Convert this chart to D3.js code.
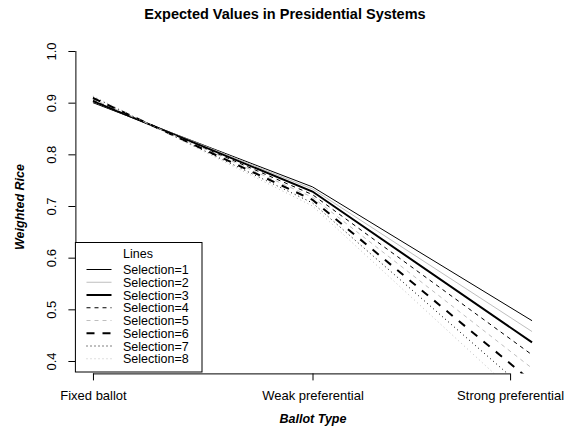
<!DOCTYPE html>
<html>
<head>
<meta charset="utf-8">
<script src="https://cdn.jsdelivr.net/npm/d3@7"></script>
<style>
  html, body { margin: 0; padding: 0; background: #fff; }
  svg { display: block; font-family: "Liberation Sans", Arial, Helvetica, sans-serif; }
</style>
</head>
<body>
<svg id="chart" width="571" height="431"></svg>
<script>
// Ballot types along the x axis (positions 1..3)
const ballotTypes = ["Fixed ballot", "Weak preferential", "Strong preferential"];
const ballotPositions = [1, 2, 3];
// Where the x tick labels sit
const xTickAt = [1, 2, 2.9];
// Y tick values
const yTicks = [0.4, 0.5, 0.6, 0.7, 0.8, 0.9, 1.0];

// Expected weighted Rice values for each selection rule
const selection1 = [0.900, 0.737, 0.478];
const selection2 = [0.902, 0.733, 0.457];
const selection3 = [0.903, 0.728, 0.436];
const selection4 = [0.905, 0.722, 0.412];
const selection5 = [0.907, 0.717, 0.386];
const selection6 = [0.909, 0.712, 0.360];
const selection7 = [0.911, 0.706, 0.334];
const selection8 = [0.913, 0.700, 0.308];

const seriesNames = ["Selection=1", "Selection=2", "Selection=3", "Selection=4",
                     "Selection=5", "Selection=6", "Selection=7", "Selection=8"];
const seriesValues = [selection1, selection2, selection3, selection4,
                      selection5, selection6, selection7, selection8];

// Line styles: colour, width, dash pattern
const gray = "#bebebe";
const styles = [
  { color: "#000", width: 1, dash: null },
  { color: gray,   width: 1, dash: null },
  { color: "#000", width: 2, dash: null },
  { color: "#000", width: 1, dash: "4,4" },
  { color: gray,   width: 1, dash: "4,4" },
  { color: "#000", width: 2, dash: "8,8" },
  { color: "#000", width: 1, dash: "1,3" },
  { color: gray,   width: 1, dash: "1,3" }
];

const svg = d3.select("#chart");

// Plot region
const plot = { left: 75.4, right: 549.6, top: 38.6, bottom: 373.4 };

const x = d3.scaleLinear().domain([0.92, 3.08]).range([plot.left, plot.right]);
const y = d3.scaleLinear().domain([0.376, 1.024]).range([plot.bottom, plot.top]);

svg.append("defs").append("clipPath").attr("id", "plotClip")
  .append("rect")
  .attr("x", plot.left).attr("y", plot.top)
  .attr("width", plot.right - plot.left).attr("height", plot.bottom - plot.top);

// Title
svg.append("text")
  .attr("x", 285).attr("y", 19)
  .attr("text-anchor", "middle")
  .attr("font-size", 14.5).attr("font-weight", "bold")
  .text("Expected Values in Presidential Systems");

// Lines
const line = d3.line()
  .x((d, i) => x(ballotPositions[i]))
  .y(d => y(d));

const lineG = svg.append("g").attr("clip-path", "url(#plotClip)");
seriesValues.forEach((vals, i) => {
  const s = styles[i];
  lineG.append("path")
    .datum(vals)
    .attr("d", line)
    .attr("fill", "none")
    .attr("stroke", s.color)
    .attr("stroke-width", s.width)
    .attr("stroke-dasharray", s.dash);
});

// Y axis
const yAxis = svg.append("g")
  .attr("transform", `translate(${plot.left},0)`)
  .call(d3.axisLeft(y).tickValues(yTicks).tickSize(7).tickSizeOuter(0).tickFormat(d3.format(".1f")));
yAxis.select(".domain").attr("d", `M0.5,${y(yTicks[0])}V${y(yTicks[yTicks.length - 1])}`);
yAxis.selectAll(".tick line").attr("stroke", "#000");
yAxis.selectAll(".tick text")
  .attr("font-size", 13)
  .attr("font-family", "Liberation Sans, Arial, sans-serif")
  .attr("fill", "#000")
  .attr("x", 0).attr("dy", null)
  .attr("text-anchor", "middle")
  .attr("transform", "translate(-19,0) rotate(-90)");

// X axis
const xAxis = svg.append("g")
  .attr("transform", `translate(0,${plot.bottom})`)
  .call(d3.axisBottom(x).tickValues(xTickAt).tickSize(7).tickSizeOuter(0)
    .tickFormat((d, i) => ballotTypes[i]));
xAxis.select(".domain").attr("d", `M${x(xTickAt[0])},0.5H${x(xTickAt[xTickAt.length - 1])}`);
xAxis.selectAll(".tick line").attr("stroke", "#000");
xAxis.selectAll(".tick text")
  .attr("font-size", 13)
  .attr("font-family", "Liberation Sans, Arial, sans-serif")
  .attr("fill", "#000")
  .attr("y", 27).attr("dy", null);

// Axis titles
svg.append("text")
  .attr("x", 313).attr("y", 423)
  .attr("text-anchor", "middle")
  .attr("font-size", 12.5).attr("font-weight", "bold").attr("font-style", "italic")
  .text("Ballot Type");

svg.append("text")
  .attr("transform", "translate(24,207) rotate(-90)")
  .attr("text-anchor", "middle")
  .attr("font-size", 12.5).attr("font-weight", "bold").attr("font-style", "italic")
  .text("Weighted Rice");

// Legend
const legend = svg.append("g");
const legBox = { left: plot.left, right: 202, top: 242.5, bottom: 372 };
legend.append("rect")
  .attr("x", legBox.left).attr("y", legBox.top)
  .attr("width", legBox.right - legBox.left).attr("height", legBox.bottom - legBox.top)
  .attr("fill", "#fff").attr("stroke", "#000").attr("stroke-width", 1);
legend.append("text")
  .attr("x", 123).attr("y", 257.5)
  .attr("font-size", 12.5)
  .text("Lines");
seriesNames.forEach((name, i) => {
  const cy = 269.5 + i * 12.75;
  const s = styles[i];
  legend.append("line")
    .attr("x1", 86.5).attr("x2", 111.5)
    .attr("y1", cy).attr("y2", cy)
    .attr("stroke", s.color).attr("stroke-width", s.width)
    .attr("stroke-dasharray", s.dash);
  legend.append("text")
    .attr("x", 123).attr("y", cy + 4.5)
    .attr("font-size", 12.5)
    .text(name);
});
</script>
</body>
</html>
